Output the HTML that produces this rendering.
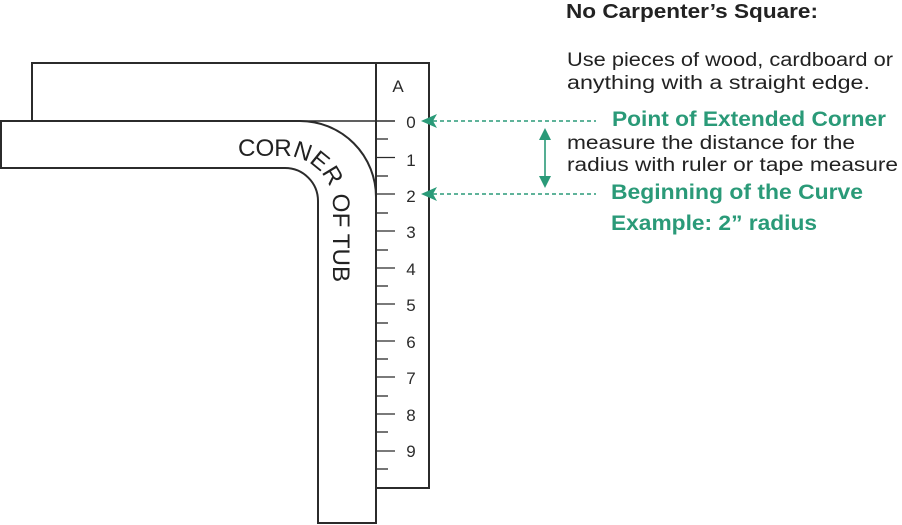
<!DOCTYPE html>
<html><head><meta charset="utf-8"><style>
html,body{margin:0;padding:0;background:#fff;}
svg{display:block;}
text{font-family:"Liberation Sans",sans-serif;}
</style></head><body>
<svg width="902" height="525" viewBox="0 0 902 525" xmlns="http://www.w3.org/2000/svg">
<g fill="none" stroke="#2b2b2b" stroke-width="2">
  <path d="M32 120 V63 H429 V488 H376"/>
  <line x1="376" y1="63" x2="376" y2="523"/>
  <path d="M300 121 H1 V168 H285 A33 33 0 0 1 318 201 V523 H376 V197 A76 76 0 0 0 300 121"/>
</g>
<line x1="300" y1="121" x2="395" y2="121" stroke="#2b2b2b" stroke-width="1.5"/>
<g stroke="#2b2b2b" stroke-width="1.3">
  <line x1="376" y1="157.5" x2="395" y2="157.5"/><line x1="376" y1="139" x2="388" y2="139"/>
  <line x1="376" y1="194" x2="395" y2="194"/><line x1="376" y1="176" x2="388" y2="176"/>
  <line x1="376" y1="231" x2="395" y2="231"/><line x1="376" y1="213" x2="388" y2="213"/>
  <line x1="376" y1="268" x2="395" y2="268"/><line x1="376" y1="250" x2="388" y2="250"/>
  <line x1="376" y1="304" x2="395" y2="304"/><line x1="376" y1="286" x2="388" y2="286"/>
  <line x1="376" y1="341" x2="395" y2="341"/><line x1="376" y1="323" x2="388" y2="323"/>
  <line x1="376" y1="377" x2="395" y2="377"/><line x1="376" y1="359" x2="388" y2="359"/>
  <line x1="376" y1="414" x2="395" y2="414"/><line x1="376" y1="396" x2="388" y2="396"/>
  <line x1="376" y1="451" x2="395" y2="451"/><line x1="376" y1="432" x2="388" y2="432"/>
  <line x1="376" y1="469" x2="388" y2="469"/>
</g>
<g font-size="17" fill="#2b2b2b" text-anchor="middle">
  <text x="398" y="92">A</text>
  <text x="411" y="128">0</text>
  <text x="411" y="166">1</text>
  <text x="411" y="202">2</text>
  <text x="411" y="238">3</text>
  <text x="411" y="275">4</text>
  <text x="411" y="311">5</text>
  <text x="411" y="348">6</text>
  <text x="411" y="384">7</text>
  <text x="411" y="421">8</text>
  <text x="411" y="457">9</text>
</g>
<path id="tp" d="M238 156 H284 A49 49 0 0 1 333 205 V300" fill="none"/>
<text font-size="24" fill="#222"><textPath href="#tp" textLength="200" lengthAdjust="spacingAndGlyphs">CORNER OF TUB</textPath></text>
<g stroke="#2a9a78" stroke-width="1.6" fill="none">
  <line x1="433" y1="121" x2="596" y2="121" stroke-dasharray="4 3"/>
  <line x1="433" y1="194" x2="596" y2="194" stroke-dasharray="4 3"/>
  <line x1="545" y1="134" x2="545" y2="182"/>
</g>
<g fill="#2a9a78">
  <polygon points="421,121 437,114 433,121 437,128"/>
  <polygon points="421,194 437,187 433,194 437,201"/>
  <polygon points="545,128 539,140 551,140"/>
  <polygon points="545,188 539,176 551,176"/>
</g>
<text x="566" y="18" font-size="20" font-weight="bold" fill="#222" textLength="252" lengthAdjust="spacingAndGlyphs">No Carpenter’s Square:</text>
<g font-size="19" fill="#222">
  <text x="567" y="66" textLength="326" lengthAdjust="spacingAndGlyphs">Use pieces of wood, cardboard or</text>
  <text x="567" y="89" textLength="303" lengthAdjust="spacingAndGlyphs">anything with a straight edge.</text>
  <text x="567" y="149" textLength="288" lengthAdjust="spacingAndGlyphs">measure the distance for the</text>
  <text x="567" y="171" textLength="331" lengthAdjust="spacingAndGlyphs">radius with ruler or tape measure</text>
</g>
<g font-size="21" font-weight="bold" fill="#2a9a78">
  <text x="612" y="126" textLength="274" lengthAdjust="spacingAndGlyphs">Point of Extended Corner</text>
  <text x="611" y="199" textLength="252" lengthAdjust="spacingAndGlyphs">Beginning of the Curve</text>
  <text x="611" y="230" textLength="206" lengthAdjust="spacingAndGlyphs">Example: 2” radius</text>
</g>
</svg>
</body></html>
